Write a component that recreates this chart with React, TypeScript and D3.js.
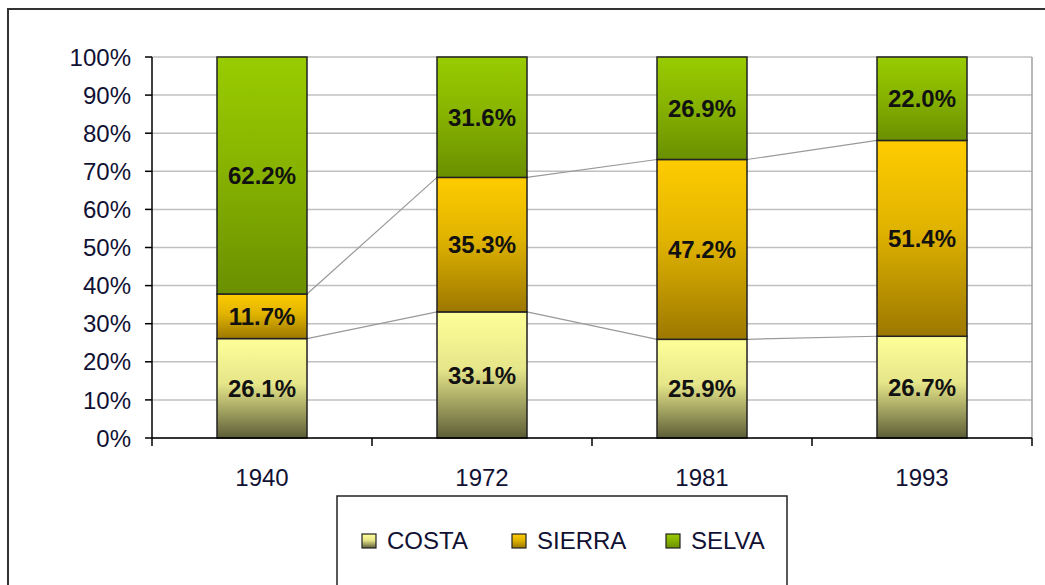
import React from "react";
import * as d3 from "d3";

const years = ["1940", "1972", "1981", "1993"];
const costa = [26.1, 33.1, 25.9, 26.7];
const sierra = [11.7, 35.3, 47.2, 51.4];
const selva = [62.2, 31.6, 26.9, 22.0];
const seriesNames = ["COSTA", "SIERRA", "SELVA"];
const yTicks = [0, 10, 20, 30, 40, 50, 60, 70, 80, 90, 100];

const gradients = [
  { id: "gCosta", top: "#ffff99", mid: "#e6e68a", bottom: "#5e5e38" },
  { id: "gSierra", top: "#ffcc00", mid: "#e0b300", bottom: "#9c7800" },
  { id: "gSelva", top: "#99cc00", mid: "#88b400", bottom: "#6a9000" },
];

export default function App() {
  const W = 1045, H = 585;
  const left = 152, right = 1032, top = 57, bottom = 438;
  const x = d3.scaleBand<string>().domain(years).range([left, right]);
  const y = d3.scaleLinear().domain([0, 100]).range([bottom, top]);
  const barW = 90;
  const data = years.map((yr, i) => {
    const vals = [costa[i], sierra[i], selva[i]];
    let acc = 0;
    const segs = vals.map((v, k) => {
      const y0 = acc;
      acc += v;
      return { k, v, y0, y1: k === 2 ? 100 : acc };
    });
    return { yr, segs };
  });
  const bx = (yr: string) => (x(yr) as number) + x.bandwidth() / 2 - barW / 2;

  return (
    <svg width={W} height={H} style={{ position: "absolute", left: 0, top: 0, background: "#fff" }}>
      <defs>
        {gradients.map((g) => (
          <linearGradient key={g.id} id={g.id} x1="0" y1="0" x2="0" y2="1">
            <stop offset="0%" stopColor={g.top} />
            <stop offset="45%" stopColor={g.mid} />
            <stop offset="100%" stopColor={g.bottom} />
          </linearGradient>
        ))}
      </defs>
      <rect x={8} y={9} width={W + 20} height={H + 20} fill="#fff" stroke="#333" strokeWidth={2} />
      {/* gridlines */}
      {yTicks.map((t) => (
        <line key={t} x1={left} x2={right} y1={y(t)} y2={y(t)} stroke="#c0c0c0" strokeWidth={1.5} />
      ))}
      <line x1={right} x2={right} y1={top} y2={bottom} stroke="#a0a0a0" strokeWidth={1.5} />
      {/* series lines */}
      {[0, 1].map((k) =>
        years.slice(0, -1).map((yr, i) => {
          const a = data[i].segs[k].y1;
          const b = data[i + 1].segs[k].y1;
          return (
            <line key={k + "-" + i} x1={bx(yr) + barW} y1={y(a)} x2={bx(years[i + 1])} y2={y(b)} stroke="#999" strokeWidth={1.2} />
          );
        })
      )}
      {/* bars */}
      {data.map((d) =>
        d.segs.map((s) => (
          <rect key={d.yr + s.k} x={bx(d.yr)} y={y(s.y1)} width={barW} height={y(s.y0) - y(s.y1)}
            fill={`url(#${gradients[s.k].id})`} stroke="#222" strokeWidth={1.5} />
        ))
      )}
      {/* labels */}
      {data.map((d) =>
        d.segs.map((s) => (
          <text key={"l" + d.yr + s.k} x={bx(d.yr) + barW / 2} y={(y(s.y0) + y(s.y1)) / 2} dy="0.36em"
            textAnchor="middle" fontFamily="Liberation Sans, Arial, sans-serif" fontWeight="bold" fontSize={24} fill="#111">
            {s.v.toFixed(1)}%
          </text>
        ))
      )}
      {/* axes */}
      <line x1={left} x2={left} y1={top} y2={bottom} stroke="#000" strokeWidth={1.5} />
      <line x1={left} x2={right} y1={bottom} y2={bottom} stroke="#000" strokeWidth={1.5} />
      {yTicks.map((t) => (
        <g key={"yt" + t}>
          <line x1={left - 7} x2={left} y1={y(t)} y2={y(t)} stroke="#000" strokeWidth={1.5} />
          <text x={131} y={y(t)} dy="0.36em" textAnchor="end" fontFamily="Liberation Sans, Arial, sans-serif" fontSize={24} fill="#111133">
            {t}%
          </text>
        </g>
      ))}
      {[...years.map((yr) => x(yr) as number), right].map((px, i) => (
        <line key={"xt" + i} x1={px} x2={px} y1={bottom} y2={bottom + 8} stroke="#000" strokeWidth={1.5} />
      ))}
      {years.map((yr) => (
        <text key={"xl" + yr} x={(x(yr) as number) + x.bandwidth() / 2} y={486} textAnchor="middle"
          fontFamily="Liberation Sans, Arial, sans-serif" fontSize={24} fill="#111133">
          {yr}
        </text>
      ))}
      {/* legend */}
      <rect x={337} y={496} width={450} height={120} fill="#fff" stroke="#222" strokeWidth={1.5} />
      {seriesNames.map((n, k) => {
        const lx = [362, 512, 666][k];
        return (
          <g key={n}>
            <rect x={lx} y={534} width={14} height={14} fill={`url(#${gradients[k].id})`} stroke="#222" strokeWidth={1.2} />
            <text x={lx + 25} y={549} fontFamily="Liberation Sans, Arial, sans-serif" fontSize={24} fill="#111133">
              {n}
            </text>
          </g>
        );
      })}
    </svg>
  );
}
